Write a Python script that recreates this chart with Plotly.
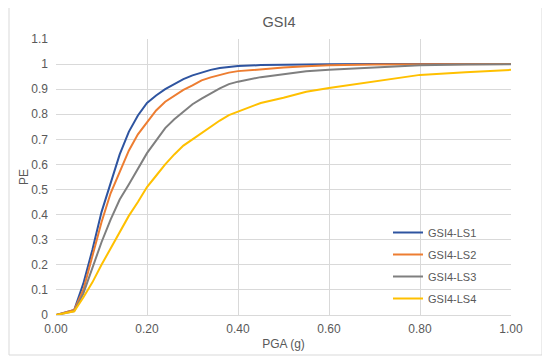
import plotly.graph_objects as go

pga = [0, 0.04, 0.06, 0.08, 0.10, 0.12, 0.14, 0.16, 0.18, 0.20, 0.22, 0.24, 0.26, 0.28, 0.30,
       0.32, 0.34, 0.36, 0.38, 0.40, 0.45, 0.50, 0.55, 0.60, 0.70, 0.80, 0.90, 1.00]

ls1 = [0, 0.02, 0.125, 0.26, 0.41, 0.53, 0.64, 0.73, 0.795, 0.845, 0.875, 0.90, 0.92, 0.94, 0.955,
       0.967, 0.977, 0.984, 0.989, 0.992, 0.996, 0.998, 0.999, 0.999, 1.0, 1.0, 1.0, 1.0]
ls2 = [0, 0.02, 0.10, 0.23, 0.37, 0.485, 0.57, 0.655, 0.72, 0.77, 0.815, 0.85, 0.875, 0.897, 0.915,
       0.935, 0.947, 0.957, 0.966, 0.972, 0.980, 0.986, 0.991, 0.995, 0.998, 0.999, 1.0, 1.0]
ls3 = [0, 0.015, 0.085, 0.19, 0.29, 0.38, 0.46, 0.52, 0.585, 0.645, 0.695, 0.745, 0.78, 0.81, 0.84,
       0.862, 0.883, 0.903, 0.92, 0.93, 0.948, 0.96, 0.971, 0.977, 0.986, 0.995, 0.998, 0.999]
ls4 = [0, 0.015, 0.07, 0.13, 0.20, 0.265, 0.33, 0.395, 0.45, 0.51, 0.555, 0.60, 0.64, 0.675, 0.70,
       0.725, 0.752, 0.775, 0.797, 0.81, 0.845, 0.866, 0.89, 0.905, 0.93, 0.957, 0.967, 0.977]

names = ["GSI4-LS1", "GSI4-LS2", "GSI4-LS3", "GSI4-LS4"]
colors = ["#2E54A0", "#ED7D31", "#7F7F7F", "#FFC000"]
series = [ls1, ls2, ls3, ls4]

OFF = 8  # page body margin
W, H = 550 - OFF, 362 - OFF
L, T = 56 - OFF, 39 - OFF
PW, PH = 455, 276
R, B = W - L - PW, H - T - PH

def py(abs_y):
    return (315 - abs_y) / PH

def px(abs_x):
    return (abs_x - 56) / PW

FONT = "Liberation Sans, Arial, sans-serif"
fig = go.Figure()
for n, c, s in zip(names, colors, series):
    fig.add_trace(go.Scatter(x=pga, y=s, name=n, mode="lines", legendgroup=n,
                             line=dict(color=c, width=2)))

fig.update_layout(
    width=W, height=H,
    margin=dict(l=L, r=R, t=T, b=B),
    paper_bgcolor="white", plot_bgcolor="white",
    font=dict(family=FONT, size=12, color="#595959"),
    title=dict(text="GSI4", x=0.5, xanchor="center", y=1 - (22 - OFF) / H, yanchor="middle",
               font=dict(size=14.5, color="#595959")),
    showlegend=True,
    legend=dict(x=px(388), xanchor="left", y=py(218), yanchor="top",
                bgcolor="rgba(0,0,0,0)", font=dict(size=11, color="#595959"),
                itemwidth=30, tracegroupgap=3),
    xaxis=dict(range=[0, 1.0], dtick=0.2, tick0=0, tickformat=".2f",
               showgrid=True, gridcolor="#D9D9D9", gridwidth=1,
               zeroline=False, showline=True, linecolor="#D9D9D9",
               ticks="", ticklabelstandoff=3,
               title=dict(text="PGA (g)", standoff=4, font=dict(size=12)),
               tickfont=dict(size=12)),
    yaxis=dict(range=[0, 1.1], dtick=0.1, tick0=0,
               showgrid=True, gridcolor="#D9D9D9", gridwidth=1,
               zeroline=False, showline=False, ticks="", ticklabelstandoff=7,
               title=dict(text="PE", standoff=0, font=dict(size=12)),
               tickfont=dict(size=12)),
    shapes=[dict(type="rect", xref="paper", yref="paper",
                 x0=px(9), x1=px(542), y0=py(355), y1=py(7),
                 line=dict(color="#D9D9D9", width=1), layer="below")],
)

fig.write_html("out.html")
